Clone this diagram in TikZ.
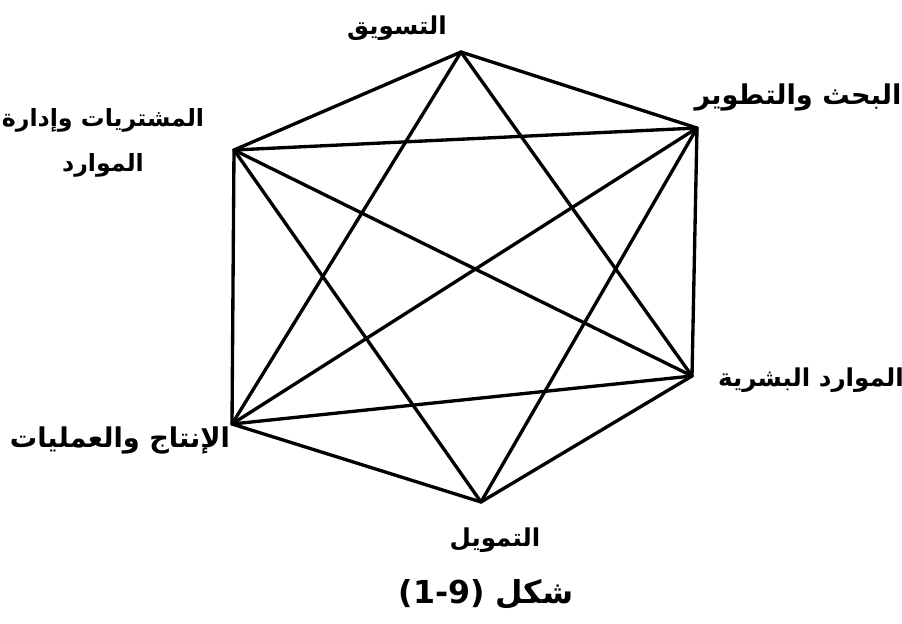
\documentclass[tikz,border=0pt]{standalone}
\usepackage{fontspec}
\TeXXeTstate=1
\newfontfamily\arabicfont[Script=Arabic]{DejaVu Sans}
\begin{document}
\begin{tikzpicture}[x=0.02cm,y=-0.02cm,
  edge/.style={line width=1.9pt,line cap=round,line join=round},
  lbl/.style={font=\arabicfont\bfseries,inner sep=0pt,align=center},
  fs/.style={font=\arabicfont\bfseries\fontsize{#1}{26}\selectfont}]
\useasboundingbox (0,0) rectangle (902,623);
\coordinate (T) at (461,52);
\coordinate (TR) at (697,128);
\coordinate (BR) at (692,376);
\coordinate (B) at (481,502);
\coordinate (BL) at (232,424);
\coordinate (TL) at (234,150);
% hexagon
\draw[edge] (T) -- (TR) -- (BR) -- (B) -- (BL) -- (TL) -- cycle;
% diagonals
\draw[edge] (T) -- (BL);
\draw[edge] (T) -- (BR);
\draw[edge] (TL) -- (TR);
\draw[edge] (TL) -- (BR);
\draw[edge] (TL) -- (B);
\draw[edge] (TR) -- (BL);
\draw[edge] (TR) -- (B);
\draw[edge] (BL) -- (BR);
% labels
\node[lbl,fs=14] (lT) at (397,28) {\beginR التسويق\endR};
\node[lbl,fs=15.5] (lTR) at (798,97) {\beginR البحث والتطوير\endR};
\node[lbl,fs=13.5] (lTL) at (103,143) {\beginR المشتريات وإدارة\endR\\\beginR الموارد\endR};
\node[lbl,fs=14] (lBR) at (811,380) {\beginR الموارد البشرية\endR};
\node[lbl,fs=15.5] (lBL) at (120,440) {\beginR الإنتاج والعمليات\endR};
\node[lbl,fs=14] (lB) at (495,540) {\beginR التمويل\endR};
\node[lbl,fs=18] (cap) at (486,594) {(1-9) \beginR شكل\endR};
\end{tikzpicture}
\end{document}
